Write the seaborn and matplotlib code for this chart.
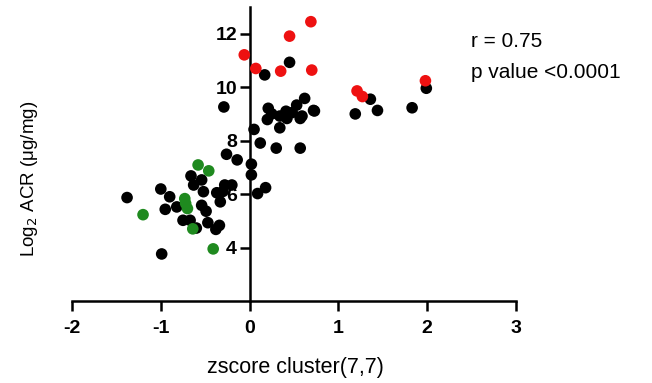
import matplotlib
matplotlib.use("Agg")
import matplotlib.pyplot as plt
import seaborn as sns
import pandas as pd

# points
black_x = [0.62, 0.72, 0.59, 1.19, 1.36, 1.44, 1.83, 1.99, 0.57,
           -0.29, 0.17, 0.45, 0.21, 0.20, 0.34, 0.41, 0.42, 0.53, 0.57, 0.73,
           0.34, 0.05, 0.12, 0.30, 0.25, 0.48,
           -0.26, -0.14, 0.02, 0.02, 0.09, 0.18,
           -0.66, -0.54, -0.63, -0.52, -1.00, -1.38, -0.90, -0.95, -0.82,
           -0.75, -0.67, -0.60, -0.54, -0.49, -0.47, -0.38, -0.34,
           -0.37, -0.28, -0.20, -0.33, -0.30, -0.99]
black_y = [9.58, 9.13, 8.92, 9.00, 9.55, 9.13, 9.23, 9.96, 7.72,
           9.26, 10.46, 10.93, 9.21, 8.79, 8.92, 9.10, 8.83, 9.33, 8.83, 9.11,
           8.48, 8.42, 7.91, 7.72, 9.00, 9.05,
           7.49, 7.28, 7.12, 6.72, 6.02, 6.24,
           6.68, 6.53, 6.34, 6.09, 6.19, 5.87, 5.90, 5.43, 5.52,
           5.02, 5.02, 4.73, 5.58, 5.36, 4.93, 4.68, 4.83,
           6.05, 6.34, 6.34, 5.71, 6.10, 3.76]

red_x = [-0.06, 0.07, 0.35, 0.45, 0.69, 0.70, 1.21, 1.27, 1.98]
red_y = [11.21, 10.70, 10.60, 11.91, 12.45, 10.64, 9.86, 9.65, 10.24]

green_x = [-0.58, -0.46, -0.73, -0.70, -1.20, -0.64, -0.41, -0.72]
green_y = [7.09, 6.87, 5.83, 5.46, 5.23, 4.70, 3.95, 5.65]

df = pd.DataFrame({
    "x": black_x + red_x + green_x,
    "y": black_y + red_y + green_y,
    "group": ["black"] * len(black_x) + ["red"] * len(red_x) + ["green"] * len(green_x),
})

sns.set_style("white")
plt.rcParams["font.family"] = ["Liberation Sans", "DejaVu Sans"]
plt.rcParams["axes.unicode_minus"] = False
plt.rcParams["text.color"] = "black"
plt.rcParams["axes.labelcolor"] = "black"
plt.rcParams["xtick.color"] = "black"
plt.rcParams["ytick.color"] = "black"

fig = plt.figure(figsize=(6.52, 3.83), dpi=100)
ax = fig.add_axes([72 / 652, 82 / 383, 444 / 652, 294 / 383])

sns.scatterplot(data=df, x="x", y="y", hue="group",
                palette={"black": "#000000", "red": "#ee1111", "green": "#1f8a1f"},
                s=70, linewidth=0, legend=False, ax=ax, zorder=3)

ax.set_xlim(-2, 3)
ax.set_ylim(2, 13)
ax.set_xticks([-2, -1, 0, 1, 2, 3])
ax.set_yticks([4, 6, 8, 10, 12])

for s in ["top", "right"]:
    ax.spines[s].set_visible(False)
ax.spines["left"].set_position(("data", 0))
for s in ["left", "bottom"]:
    ax.spines[s].set_linewidth(1.8)
    ax.spines[s].set_color("black")
ax.spines["left"].set_zorder(2)

ax.tick_params(axis="x", bottom=True, direction="out", length=7.5, width=1.8,
               labelsize=14, pad=6, colors="black")
ax.tick_params(axis="y", left=True, direction="out", length=7, width=1.8,
               labelsize=14, pad=2, colors="black")
for lab in ax.get_xticklabels() + ax.get_yticklabels():
    lab.set_fontweight("bold")

ax.set_xlabel("")
ax.set_ylabel("")
fig.text(295 / 652, 1 - 367 / 383, "zscore cluster(7,7)", fontsize=15.5,
         ha="center", va="center", color="black")
fig.text(30 / 652, 1 - 179 / 383, r"Log$_2$ ACR ($\mathregular{\mu}$g/mg)", rotation=90,
         fontsize=13.5, ha="center", va="center", color="black")

fig.text(471 / 652, 1 - 47 / 383, "r = 0.75", fontsize=15, va="baseline", color="black")
fig.text(471 / 652, 1 - 78 / 383, "p value <0.0001", fontsize=15, va="baseline", color="black")

fig.savefig("out.png", dpi=100)
